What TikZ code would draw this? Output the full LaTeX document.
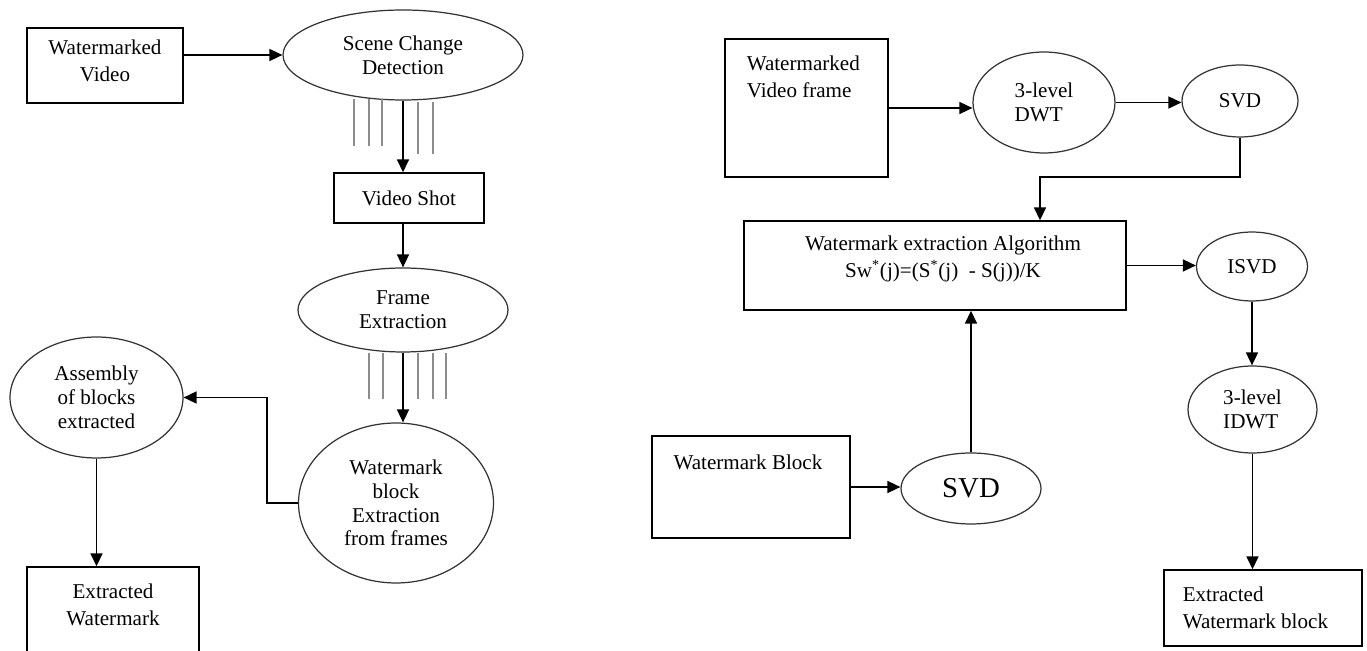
\documentclass[tikz,border=0pt]{standalone}
\usepackage{fontspec}
\setmainfont{Liberation Serif}
\usetikzlibrary{shapes.geometric,arrows.meta}

\begin{document}
\begin{tikzpicture}[
    x=0.02cm, y=-0.02cm,
    every node/.style={font=\fontsize{12}{13.5}\selectfont},
    box/.style={draw, rectangle, line width=0.8pt, inner sep=0pt, align=center},
    oval/.style={draw=black!80, ellipse, line width=0.7pt, inner sep=0pt, align=center},
    txt/.style={inner sep=0pt, align=left},
    wide/.style={font=\fontsize{12}{15.5}\selectfont},
    hatch/.style={draw=black!45, line width=0.6pt},
    >={Triangle[length=2.6mm,width=2.4mm]},
    every path/.style={line width=0.9pt},
  ]
  \useasboundingbox (0,0) rectangle (1367,651);

  % extraction of the watermark from the video
  \node[box, minimum width=3.12cm, minimum height=1.5cm] (wv) at (105,65.5) {};
  \node[txt, wide, align=center] (wv-t) at (105,61) {Watermarked\\Video};
  \node[oval, minimum width=4.8cm, minimum height=1.8cm] (scd) at (403,55) {Scene Change\\Detection};
  \node[box, minimum width=3cm, minimum height=1cm] (shot) at (409,198) {Video Shot};
  \node[oval, minimum width=4.2cm, minimum height=1.68cm] (fe) at (403,310) {Frame\\Extraction};
  \node[oval, minimum width=3.9cm, minimum height=3.2cm] (wb) at (396,503) {Watermark\\block\\Extraction\\from frames};
  \node[oval, minimum width=3.46cm, minimum height=2.42cm] (asm) at (96.5,397.5) {Assembly\\of blocks\\extracted};
  \node[box, minimum width=3.44cm, minimum height=2.1cm] (ew) at (113,619.5) {};
  \node[txt, wide, align=center, anchor=north] (ew-t) at (113,583) {Extracted\\Watermark};

  \foreach \x/\ya/\yb in {354/99/146, 369/99/146, 382/99/146, 418/102/154, 433/102/154}
    \draw[hatch] (\x,\ya) -- (\x,\yb);
  \foreach \x in {369,383,418,433,446}
    \draw[hatch] (\x,353) -- (\x,399);

  \draw[->] (wv.east |- scd.west) -- (scd.west);
  \draw[->] (scd.south) -- (scd.south |- shot.north);
  \draw[->] (fe.north |- shot.south) -- (fe.north);
  \draw[->] (fe.south) -- (fe.south |- wb.north);
  \draw[->] (wb.west) -- ++(-31,0) |- (asm.east);
  \draw[->] (asm.south) -- (asm.south |- ew.north);

  % extraction of one watermark block
  \node[box, minimum width=3.26cm, minimum height=2.76cm] (wvf) at (806.5,108) {};
  \node[txt, wide, anchor=north west] (wvf-t) at (746,55) {Watermarked\\Video frame};
  \node[oval, align=left, minimum width=2.84cm, minimum height=2.02cm] (dwt) at (1044,102.5) {3-level\\DWT};
  \node[oval, minimum width=2.32cm, minimum height=1.44cm] (svd) at (1240,101) {SVD};
  \node[box, minimum width=7.64cm, minimum height=1.78cm] (alg) at (935,265.5) {};
  \node[txt, wide, align=center, anchor=north] (alg-t) at (943,235)
    {Watermark extraction Algorithm\\Sw\textsuperscript{*}(j)=(S\textsuperscript{*}(j)\ \ - S(j))/K};
  \node[oval, minimum width=2.22cm, minimum height=1.38cm] (isvd) at (1252,266.5) {ISVD};
  \node[oval, align=left, minimum width=2.58cm, minimum height=1.74cm] (idwt) at (1252.5,409.5) {3-level\\IDWT};
  \node[box, minimum width=3.96cm, minimum height=2.04cm] (wmb) at (751,487) {};
  \node[txt] (wmb-t) at (748,462) {Watermark Block};
  \node[oval, font=\fontsize{16.4}{19}\selectfont, minimum width=2.8cm, minimum height=1.42cm] (svdb) at (971,488.5) {SVD};
  \node[box, minimum width=3.96cm, minimum height=1.52cm] (ewb) at (1263,608) {};
  \node[txt, wide, anchor=north west] (ewb-t) at (1182,586) {Extracted\\Watermark block};

  \coordinate (bend) at (1040,177);
  \draw[->] (wvf.east) -- (wvf.east -| dwt.west);
  \draw[->] (dwt.east) -- (dwt.east -| svd.west);
  \draw[->] (svd.south) |- (bend) -- (bend |- alg.north);
  \draw[->] (alg.east) -- (alg.east -| isvd.west);
  \draw[->] (isvd.south) -- (isvd.south |- idwt.north);
  \draw[->] (idwt.south) -- (idwt.south |- ewb.north);
  \draw[->] (wmb.east) -- (wmb.east -| svdb.west);
  \draw[->] (svdb.north) -- (svdb.north |- alg.south);
\end{tikzpicture}
\end{document}
